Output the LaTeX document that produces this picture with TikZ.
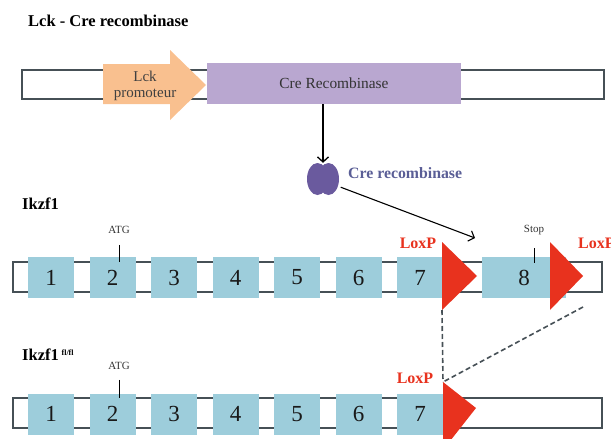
\documentclass[tikz,border=0pt]{standalone}
\usepackage{fontspec}
\setmainfont{Liberation Serif}
\usetikzlibrary{arrows.meta}
\definecolor{exonblue}{RGB}{157,205,219}
\definecolor{loxred}{RGB}{232,50,30}
\definecolor{promorange}{RGB}{249,192,143}
\definecolor{crepurple}{RGB}{185,167,208}
\definecolor{blobpurple}{RGB}{106,90,158}
\definecolor{crefont}{RGB}{90,94,150}
\definecolor{barline}{RGB}{70,80,86}
\tikzset{
  exon/.style={fill=exonblue, minimum width=46pt, minimum height=41pt, inner sep=0pt,
    font=\fontsize{23}{23}\selectfont, text=black!90},
  genebar/.style={draw=barline, line width=1.1pt, fill=white},
  loxp/.style={fill=loxred},
  loxlabel/.style={text=loxred, inner sep=0pt, font=\fontsize{16}{16}\selectfont\bfseries},
  tiny/.style={inner sep=0pt, font=\fontsize{11}{11}\selectfont, text=black!80},
  genelabel/.style={anchor=west, inner sep=0pt, font=\fontsize{16.5}{16.5}\selectfont\bfseries},
  cutline/.style={draw=barline, line width=1.6pt, dash pattern=on 5pt off 3pt},
}

\begin{document}
\begin{tikzpicture}[x=1pt,y=-1pt]
            \useasboundingbox (0,0) rectangle (611,439);

            \node[genelabel] (title) at (28,21) {Lck - Cre recombinase};

            \draw[genebar] (22,70) rectangle (604,99);
            \fill[promorange] (103,64) -- (170,64) -- (170,50) -- (206,85) -- (170,120) -- (170,104) -- (103,104) -- cycle;
            \node[align=center, inner sep=0pt, text=black!75, font=\fontsize{15}{16}\selectfont] (lck) at (145,86) {Lck\\promoteur};
            \node[fill=crepurple, minimum width=254pt, minimum height=41pt, inner sep=0pt,
                  text=black!80, font=\fontsize{15.4}{15.4}\selectfont] (crebox) at (334,83.5) {Cre Recombinase};

            \node[minimum width=31pt, minimum height=32pt, inner sep=0pt] (cre) at (323,179) {};
            \fill[blobpurple] (317.5,179) ellipse (10.5pt and 16pt);
            \fill[blobpurple] (328.5,179) ellipse (10.5pt and 16pt);
            \node[anchor=west, inner sep=0pt, text=crefont, font=\fontsize{15.8}{15.8}\selectfont\bfseries] (crelabel) at (348,173) {Cre recombinase};
            \coordinate (hit) at (475,238);

            \draw[line width=1.3pt, -{Straight Barb[length=5pt,width=11pt]}] (cre.north |- crebox.south) -- (cre.north);
            \draw[line width=1.1pt, -{Straight Barb[length=5pt,width=11pt]}] (cre.south east) ++(2,-8) -- (hit);

            % Ikzf1
            \node[genelabel] (wt) at (22,204) {Ikzf1};
            \draw[genebar] (13,262) rectangle (602,292);
            \node[exon] (a1) at (51,277.5) {1};
            \node[exon] (a2) at (112.5,277.5) {2};
            \node[exon] (a3) at (174,277.5) {3};
            \node[exon] (a4) at (235.5,277.5) {4};
            \node[exon] (a5) at (297,277.5) {5};
            \node[exon] (a6) at (358.5,277.5) {6};
            \node[exon] (a7) at (420,277.5) {7};
            \node[exon, minimum width=84pt] (a8) at (524,277.5) {8};
            \node[tiny] (atga) at (119,230) {ATG};
            \draw[line width=1pt] (atga.south) ++(0,11) -- ++(0,17);
            \node[tiny] (stop) at (534,230) {Stop};
            \draw[line width=1pt] (stop.south) ++(0,13) -- ++(0,15);
            \coordinate (la) at (442,242);
            \coordinate (lb) at (442,310);
            \fill[loxp] (la) -- (477,276) -- (lb) -- cycle;
            \coordinate (lc) at (550,242);
            \coordinate (ld) at (550,310);
            \fill[loxp] (lc) -- (583,276) -- (ld) -- cycle;
            \node[loxlabel] (loxa) at (418,243) {LoxP};
            \node[loxlabel, anchor=west] (loxb) at (578,243) {LoxP};

            % Ikzf1 fl/fl
            \node[genelabel] (flox) at (22,355) {Ikzf1\,\raisebox{5pt}{\fontsize{8}{8}\selectfont fl/fl}};
            \draw[genebar] (13,398) rectangle (602,428);
            \node[exon] (b1) at (51,414) {1};
            \node[exon] (b2) at (112.5,414) {2};
            \node[exon] (b3) at (174,414) {3};
            \node[exon] (b4) at (235.5,414) {4};
            \node[exon] (b5) at (297,414) {5};
            \node[exon] (b6) at (358.5,414) {6};
            \node[exon] (b7) at (420,414) {7};
            \node[tiny] (atgb) at (119,366) {ATG};
            \draw[line width=1pt] (atgb.south) ++(0,10) -- ++(0,18);
            \coordinate (le) at (443,382);
            \fill[loxp] (le) -- (476,408) -- (443,450) -- cycle;
            \node[loxlabel] (loxc) at (415,378) {LoxP};

            \coordinate (cut) at (583,307);
            \draw[cutline] (lb) -- (le);
            \draw[cutline] (cut) -- (le);
        \end{tikzpicture}
\end{document}
